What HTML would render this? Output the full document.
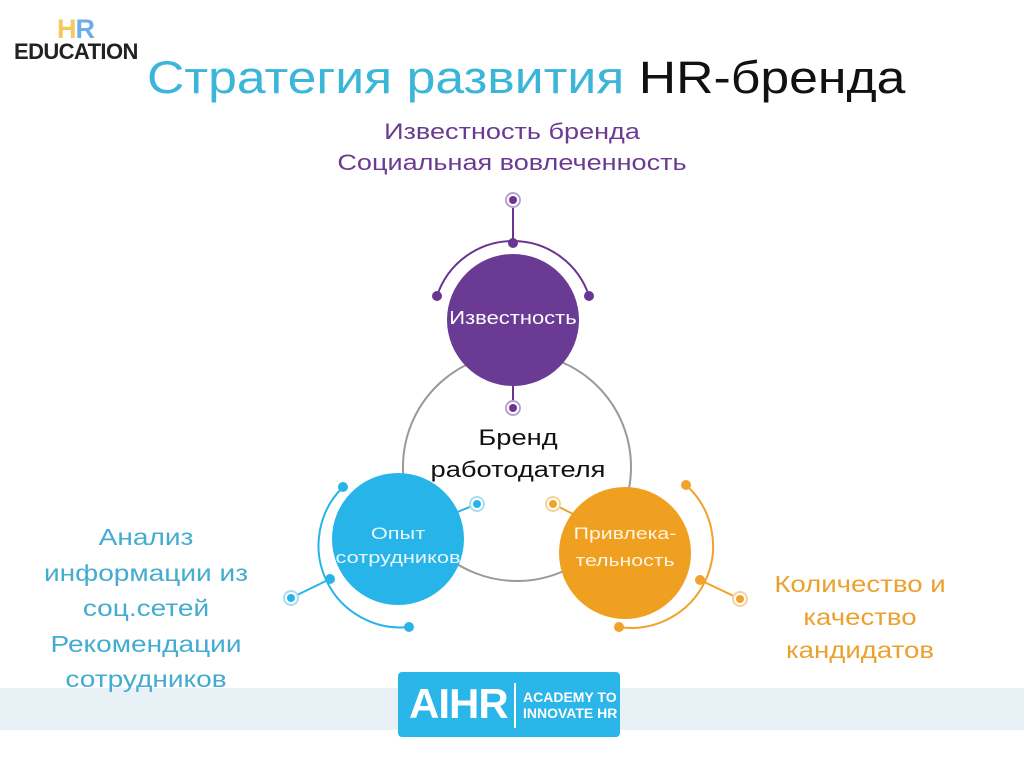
<!DOCTYPE html>
<html><head><meta charset="utf-8"><style>
html,body{margin:0;padding:0;background:#fff;}
body{width:1024px;height:768px;position:relative;overflow:hidden;font-family:"Liberation Sans","DejaVu Sans",sans-serif;}
.t{position:absolute;white-space:nowrap;}
</style></head><body>
<div style="position:absolute;left:0;top:688px;width:1024px;height:42px;background:#e7f1f6;"></div>
<div class="t" style="left:57px;top:14px;font-size:27px;font-weight:bold;letter-spacing:-1px;"><span style="color:#f6c75a">H</span><span style="color:#6eaee8">R</span></div>
<div class="t" style="left:14px;top:39px;font-size:22px;font-weight:bold;color:#222;letter-spacing:-0.6px;">EDUCATION</div>
<div class="t" style="left:147px;top:52px;font-size:45px;color:#3bb5d8;transform:scaleX(1.15);transform-origin:0 0;">Стратегия развития <span style="color:#111">HR-бренда</span></div>
<div class="t" style="left:0;width:1024px;text-align:center;top:116px;font-size:22px;line-height:31px;color:#6b3a91;transform:scaleX(1.23);transform-origin:512px 0;">Известность бренда<br>Социальная вовлеченность</div>
<div class="t" style="left:20px;width:252px;text-align:center;top:520px;font-size:23px;line-height:35.5px;color:#43acd0;transform:scaleX(1.22);transform-origin:126px 0;">Анализ<br>информации из<br>соц.сетей<br>Рекомендации<br>сотрудников</div>
<div class="t" style="left:760px;width:200px;text-align:center;top:568px;font-size:23px;line-height:33px;color:#eba12e;transform:scaleX(1.2);transform-origin:100px 0;">Количество и<br>качество<br>кандидатов</div>
<svg width="1024" height="768" style="position:absolute;left:0;top:0">
<circle cx="517" cy="467" r="114" fill="none" stroke="#999" stroke-width="2"/>
<path d="M437 296 A80 80 0 0 1 589 296" fill="none" stroke="#6a3591" stroke-width="2"/>
<line x1="513" y1="200" x2="513" y2="243" stroke="#6a3591" stroke-width="2"/>
<line x1="513" y1="385" x2="513" y2="408" stroke="#6a3591" stroke-width="2"/>
<circle cx="437" cy="296" r="5" fill="#6a3591"/><circle cx="589" cy="296" r="5" fill="#6a3591"/><circle cx="513" cy="243" r="5" fill="#6a3591"/>
<circle cx="513" cy="200" r="7" fill="#fff" stroke="#b9a3cc" stroke-width="2"/><circle cx="513" cy="200" r="4" fill="#6a3591"/>
<circle cx="513" cy="408" r="7" fill="#fff" stroke="#b9a3cc" stroke-width="2"/><circle cx="513" cy="408" r="4" fill="#6a3591"/>
<circle cx="513" cy="320" r="66" fill="#6a3a95"/>
<path d="M343 487 A82 82 0 0 0 409 627" fill="none" stroke="#29b4e8" stroke-width="2"/>
<line x1="330" y1="579" x2="291" y2="598" stroke="#29b4e8" stroke-width="2"/>
<line x1="450" y1="515" x2="477" y2="504" stroke="#29b4e8" stroke-width="2"/>
<circle cx="343" cy="487" r="5" fill="#29b4e8"/><circle cx="330" cy="579" r="5" fill="#29b4e8"/><circle cx="409" cy="627" r="5" fill="#29b4e8"/>
<circle cx="291" cy="598" r="7" fill="#fff" stroke="#a8def2" stroke-width="2"/><circle cx="291" cy="598" r="4" fill="#29b4e8"/>
<circle cx="477" cy="504" r="7" fill="#fff" stroke="#a8def2" stroke-width="2"/><circle cx="477" cy="504" r="4" fill="#29b4e8"/>
<circle cx="398" cy="539" r="66" fill="#27b4e9"/>
<path d="M686 485 A82 82 0 0 1 619 627" fill="none" stroke="#f0a22a" stroke-width="2"/>
<line x1="700" y1="580" x2="740" y2="599" stroke="#f0a22a" stroke-width="2"/>
<line x1="553" y1="504" x2="575" y2="515" stroke="#f0a22a" stroke-width="2"/>
<circle cx="686" cy="485" r="5" fill="#f0a22a"/><circle cx="700" cy="580" r="5" fill="#f0a22a"/><circle cx="619" cy="627" r="5" fill="#f0a22a"/>
<circle cx="740" cy="599" r="7" fill="#fff" stroke="#f6d39a" stroke-width="2"/><circle cx="740" cy="599" r="4" fill="#f0a22a"/>
<circle cx="553" cy="504" r="7" fill="#fff" stroke="#f6d39a" stroke-width="2"/><circle cx="553" cy="504" r="4" fill="#f0a22a"/>
<circle cx="625" cy="553" r="66" fill="#f0a020"/>
</svg>
<div class="t" style="left:447px;width:132px;text-align:center;top:308px;font-size:18px;color:#fff;transform:scaleX(1.22);transform-origin:66px 0;">Известность</div>
<div class="t" style="left:400px;width:236px;text-align:center;top:422px;font-size:22px;line-height:32px;color:#111;transform:scaleX(1.24);transform-origin:118px 0;">Бренд<br>работодателя</div>
<div class="t" style="left:332px;width:132px;text-align:center;top:522px;font-size:17px;line-height:24px;color:#e8f7fd;transform:scaleX(1.28);transform-origin:66px 0;">Опыт<br>сотрудников</div>
<div class="t" style="left:559px;width:132px;text-align:center;top:520px;font-size:17px;line-height:27px;color:#fff4e2;transform:scaleX(1.25);transform-origin:66px 0;">Привлека-<br>тельность</div>
<div style="position:absolute;left:398px;top:672px;width:222px;height:65px;background:#2ab6e9;border-radius:4px;"></div>
<div class="t" style="left:409px;top:680px;font-size:42px;font-weight:bold;color:#fff;letter-spacing:-1px;">AIHR</div>
<div style="position:absolute;left:514px;top:683px;width:2px;height:45px;background:#fff;"></div>
<div class="t" style="left:523px;top:689px;font-size:14px;line-height:16px;font-weight:bold;color:#fff;">ACADEMY TO<br>INNOVATE HR</div>
</body></html>
